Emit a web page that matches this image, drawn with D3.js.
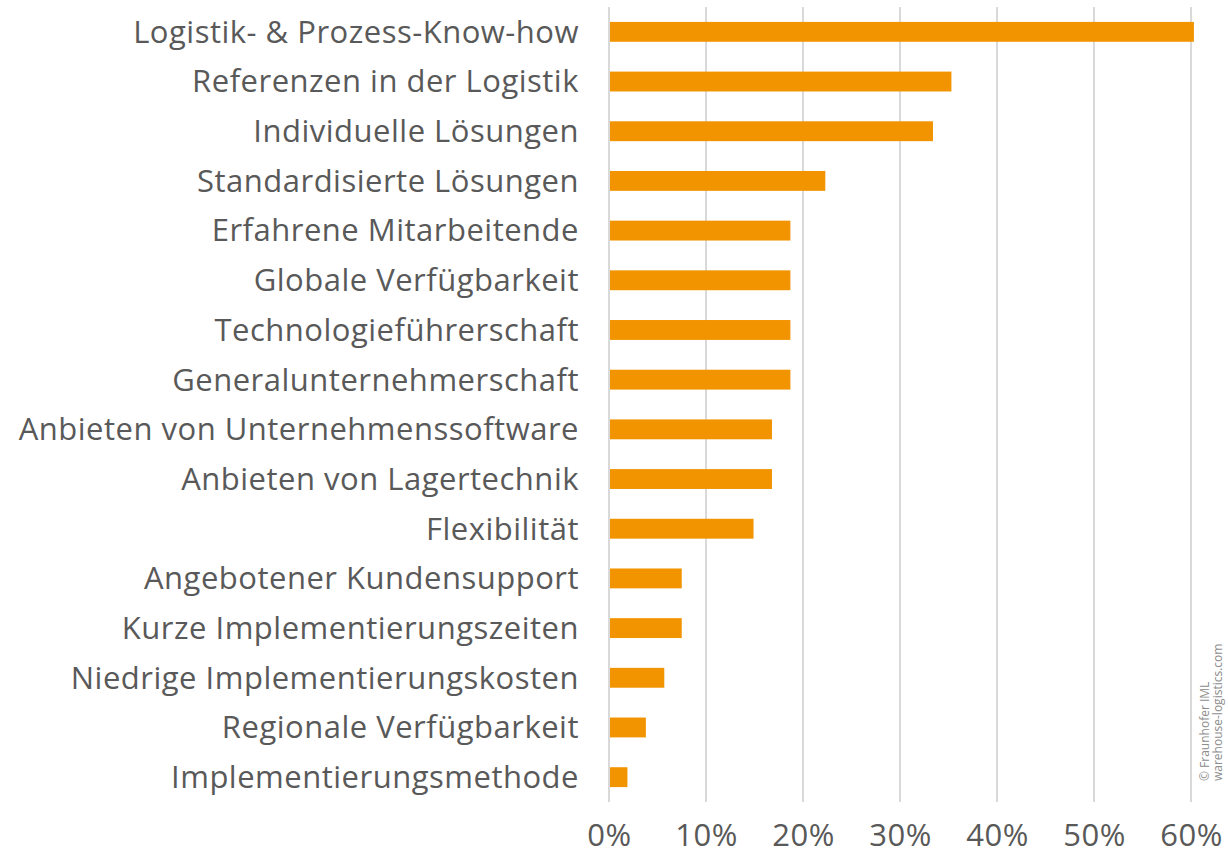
<!DOCTYPE html>
<html>
<head>
<meta charset="utf-8">
<script src="https://cdn.jsdelivr.net/npm/d3@7"></script>
<style>
	body{margin:0;background:#fff;}
	svg text{font-family:"Open Sans","Noto Sans",sans-serif;fill:#595959;}
</style>
</head>
<body>
<div id="chart"></div>
<script>
//Data (share of answers)
const categories = [
	'Logistik- & Prozess-Know-how',
	'Referenzen in der Logistik',
	'Individuelle Lösungen',
	'Standardisierte Lösungen',
	'Erfahrene Mitarbeitende',
	'Globale Verfügbarkeit',
	'Technologieführerschaft',
	'Generalunternehmerschaft',
	'Anbieten von Unternehmenssoftware',
	'Anbieten von Lagertechnik',
	'Flexibilität',
	'Angebotener Kundensupport',
	'Kurze Implementierungszeiten',
	'Niedrige Implementierungskosten',
	'Regionale Verfügbarkeit',
	'Implementierungsmethode'
];
const values = [0.603, 0.353, 0.334, 0.223, 0.187, 0.187, 0.187, 0.187, 0.168, 0.168, 0.149, 0.075, 0.075, 0.057, 0.038, 0.019];
const xTicks = [0, 0.1, 0.2, 0.3, 0.4, 0.5, 0.6];
const sourceLines = ['© Fraunhofer IML', 'warehouse-logistics.com'];

const data = categories.map((c,i) => ({label:c, value:values[i]}));

const width = 1228;
const height = 855;
const margin = {t:7, r:37, b:53, l:609};
const w = width - margin.l - margin.r;
const h = height - margin.t - margin.b;

const svg = d3.select('#chart').append('svg')
	.attr('width',width)
	.attr('height',height);

const plot = svg.append('g')
	.attr('transform',`translate(${margin.l},${margin.t})`);

//Scales
const scaleX = d3.scaleLinear().domain([0,0.6]).range([0,582]);
const scaleY = d3.scaleBand().domain(categories).range([0,h]).paddingInner(0.6).paddingOuter(0.3);

//Gridlines
plot.selectAll('.grid')
	.data(xTicks)
	.enter()
	.append('line')
	.attr('class','grid')
	.attr('x1', d => scaleX(d))
	.attr('x2', d => scaleX(d))
	.attr('y1',0)
	.attr('y2',h)
	.style('stroke','#d9d9d9')
	.style('stroke-width','2px');

//Bars
plot.selectAll('.bar')
	.data(data)
	.enter()
	.append('rect')
	.attr('class','bar')
	.attr('x', scaleX(0) + 1)
	.attr('y', d => scaleY(d.label))
	.attr('width', d => scaleX(d.value) - 1)
	.attr('height', scaleY.bandwidth())
	.style('fill','#f29400');

//Category labels
const axisY = d3.axisLeft(scaleY).tickSize(0).tickPadding(30);
plot.append('g')
	.attr('class','axis axis-y')
	.call(axisY)
	.call(g => g.select('.domain').remove())
	.selectAll('text')
	.style('font-size','31px')
	.style('letter-spacing','0.5px')
	.attr('dy','0.35em');

//X axis labels
const axisX = d3.axisBottom(scaleX)
	.tickValues(xTicks)
	.tickSize(0)
	.tickPadding(22)
	.tickFormat(d3.format('.0%'));
plot.append('g')
	.attr('class','axis axis-x')
	.attr('transform',`translate(0,${h})`)
	.call(axisX)
	.call(g => g.select('.domain').remove())
	.selectAll('text')
	.style('font-size','31px')
	.style('letter-spacing','0.5px');

svg.selectAll('.axis text').style('fill','#595959');

//Source note, rotated
const note = svg.append('text')
	.attr('transform','translate(1209,781) rotate(-90)')
	.style('font-size','12px')
	.style('fill','#8c8c8c');
note.selectAll('tspan')
	.data(sourceLines)
	.enter()
	.append('tspan')
	.attr('x',0)
	.attr('dy',(d,i) => i === 0 ? 0 : 13)
	.text(d => d);
</script>
</body>
</html>
